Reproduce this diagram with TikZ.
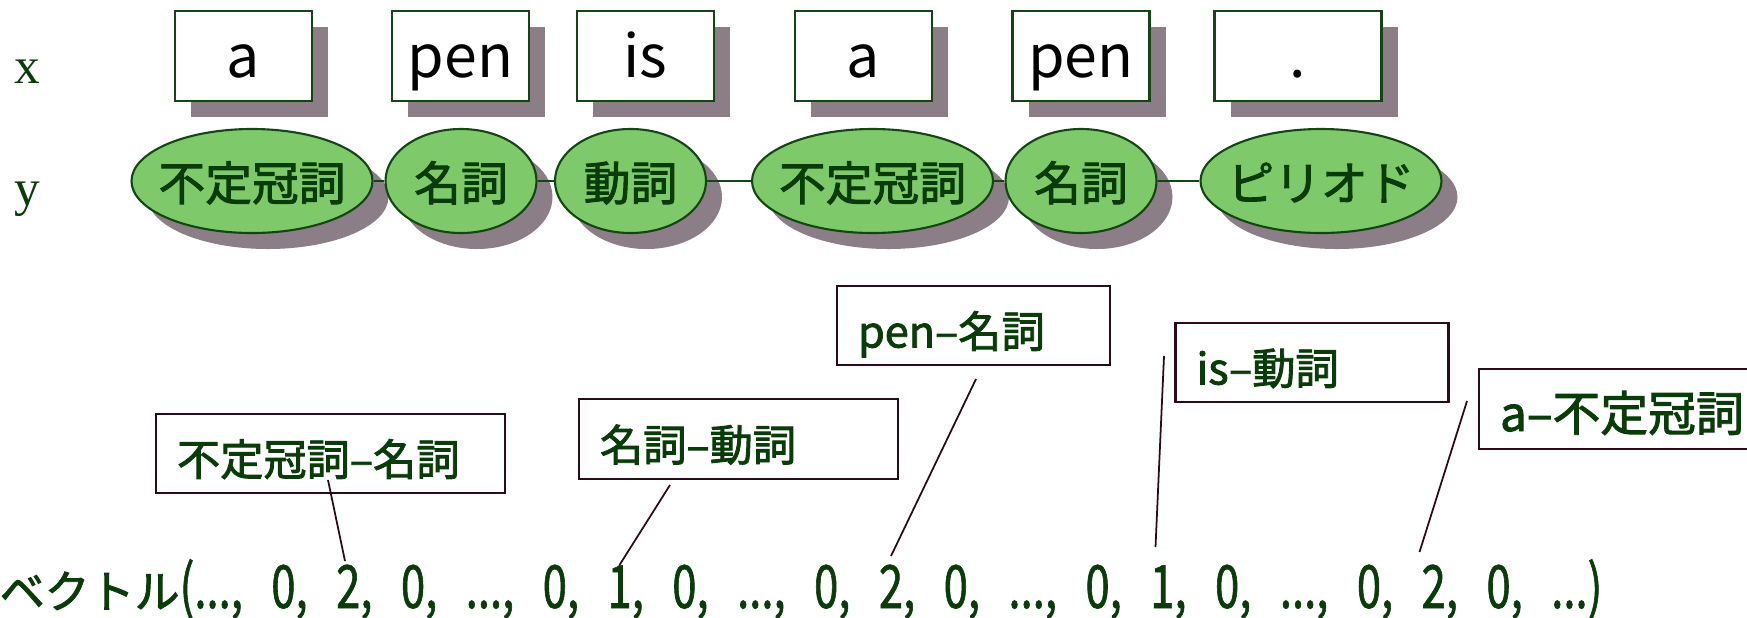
\documentclass[tikz,border=0pt]{standalone}
\usepackage{fontspec}
\setmainfont{Noto Sans CJK JP}
\newfontfamily\heavyfont[FakeBold=2]{Noto Sans CJK JP}
\newfontfamily\narrowfont[FakeStretch=0.73, FakeBold=1]{Noto Sans CJK JP}
\newfontfamily\labelfont{Liberation Serif}
\usetikzlibrary{shapes, shadows}
\definecolor{leafgreen}{RGB}{126,202,106}
\definecolor{deepgreen}{RGB}{10,60,10}
\definecolor{edgegreen}{RGB}{20,70,20}
\definecolor{shadowgray}{RGB}{139,126,134}
\definecolor{plum}{RGB}{45,10,25}
\tikzstyle{wordbox} = [rectangle, draw=edgegreen, line width=0.6pt, fill=white, minimum width=1.37cm, minimum height=0.9cm, text height=0.5cm, text depth=0.08cm, font=\fontsize{16.8}{20}\selectfont, drop shadow={shadow xshift=0.16cm, shadow yshift=-0.16cm, fill=shadowgray, opacity=1}]
\tikzstyle{tagnode} = [ellipse, draw=edgegreen, line width=0.6pt, fill=leafgreen, text=deepgreen, minimum width=2.41cm, minimum height=1.04cm, inner xsep=-0.2cm, inner ysep=0pt, text height=0.45cm, text depth=0.06cm, font=\heavyfont\fontsize{13.3}{15}\selectfont, drop shadow={shadow xshift=0.16cm, shadow yshift=-0.16cm, fill=shadowgray, opacity=1}]
\tikzstyle{featbox} = [rectangle, draw=plum, line width=0.6pt, text=deepgreen, minimum height=0.76cm, inner xsep=0.21cm, align=left, text height=0.5cm, text depth=0.06cm, font=\heavyfont\fontsize{12.3}{14}\selectfont]
\tikzstyle{axislabel} = [text=deepgreen, inner sep=0pt, anchor=base west, font=\labelfont\fontsize{14.6}{16}\selectfont]

\begin{document}
\begin{tikzpicture}
        \useasboundingbox (0, 0) rectangle (17.47, -6.17);

        \node[axislabel] at (0.14, -0.83) (LabelX) {x};
        \node[axislabel] at (0.14, -2.05) (LabelY) {y};

        \node[wordbox] at (2.435, -0.56) (WordA) {a};
        \node[wordbox] at (4.605, -0.56) (WordPen) {pen};
        \node[wordbox] at (6.455, -0.56) (WordIs) {is};
        \node[wordbox] at (8.635, -0.56) (WordA2) {a};
        \node[wordbox] at (10.81, -0.56) (WordPen2) {pen};
        \node[wordbox, minimum width=1.67cm] at (12.98, -0.56) (WordDot) {.};

        \node[tagnode] at (2.52, -1.81) (TagDet) {不定冠詞};
        \node[tagnode, minimum width=1.51cm] at (4.61, -1.81) (TagNoun) {名詞};
        \node[tagnode, minimum width=1.51cm] at (6.305, -1.81) (TagVerb) {動詞};
        \node[tagnode] at (8.725, -1.81) (TagDet2) {不定冠詞};
        \node[tagnode, minimum width=1.51cm] at (10.81, -1.81) (TagNoun2) {名詞};
        \node[tagnode] at (13.21, -1.81) (TagPeriod) {ピリオド};

        \draw[edgegreen, line width=0.6pt] (TagDet) -- (TagNoun);
        \draw[edgegreen, line width=0.6pt] (TagNoun) -- (TagVerb);
        \draw[edgegreen, line width=0.6pt] (TagVerb) -- (TagDet2);
        \draw[edgegreen, line width=0.6pt] (TagDet2) -- (TagNoun2);
        \draw[edgegreen, line width=0.6pt] (TagNoun2) -- (TagPeriod);

        \node[featbox, text width=3.07cm] at (3.305, -4.535) (FeatDetNoun) {不定冠詞–名詞};
        \node[featbox, text width=2.77cm] at (7.385, -4.39) (FeatNounVerb) {名詞–動詞};
        \node[featbox, text width=2.31cm] at (9.735, -3.255) (FeatPenNoun) {pen–名詞};
        \node[featbox, text width=2.31cm] at (13.12, -3.625) (FeatIsVerb) {is–動詞};
        \node[featbox, text width=2.48cm, font=\heavyfont\fontsize{13.6}{15}\selectfont] at (16.24, -4.09) (FeatADet) {a–不定冠詞};

        \node[text=deepgreen, inner sep=0pt, anchor=base west] at (-0.01, -6.08) (Vector) {{\heavyfont\fontsize{12.8}{15}\selectfont ベクトル}{\narrowfont\fontsize{17}{19}\selectfont\spaceskip=8.1pt (..., 0, 2, 0, ..., 0, 1, 0, ..., 0, 2, 0, ..., 0, 1, 0, ..., 0, 2, 0, ...)}};

        \coordinate (TipDetNoun) at (3.28, -4.8);
        \coordinate (TipNounVerb) at (6.7, -4.85);
        \coordinate (TipPenNoun) at (9.76, -3.79);
        \coordinate (TipIsVerb) at (11.64, -3.56);
        \coordinate (TipADet) at (14.67, -4.01);
        \coordinate (EndDetNoun) at (3.45, -5.61);
        \coordinate (EndNounVerb) at (6.195, -5.65);
        \coordinate (EndPenNoun) at (8.91, -5.56);
        \coordinate (EndIsVerb) at (11.555, -5.47);
        \coordinate (EndADet) at (14.195, -5.52);

        \draw[plum, line width=0.5pt] (TipDetNoun) -- (EndDetNoun);
        \draw[plum, line width=0.5pt] (TipNounVerb) -- (EndNounVerb);
        \draw[plum, line width=0.5pt] (TipPenNoun) -- (EndPenNoun);
        \draw[plum, line width=0.5pt] (TipIsVerb) -- (EndIsVerb);
        \draw[plum, line width=0.5pt] (TipADet) -- (EndADet);
    \end{tikzpicture}
\end{document}
